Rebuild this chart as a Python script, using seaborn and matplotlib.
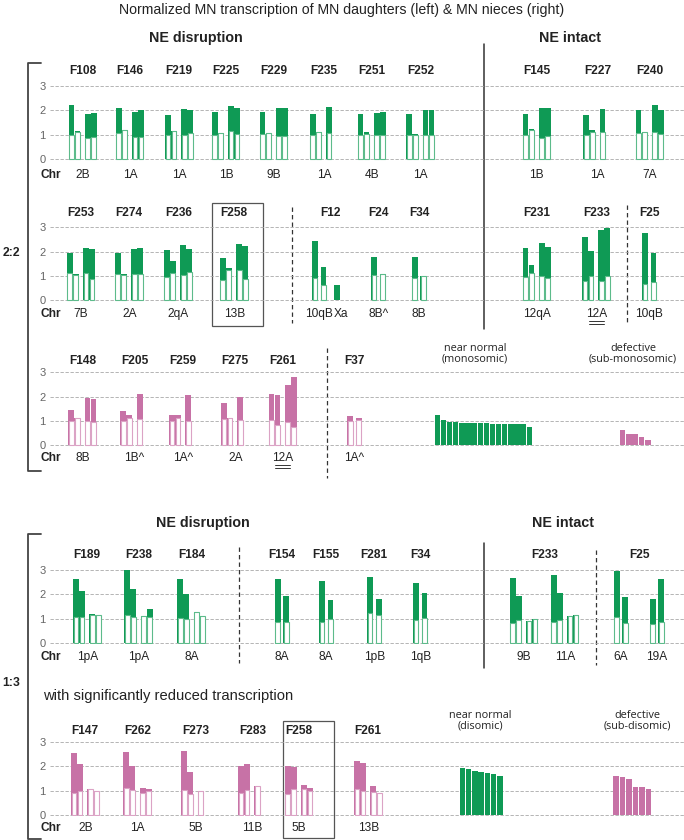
import numpy as np
import pandas as pd
import matplotlib
matplotlib.use("Agg")
import matplotlib.pyplot as plt
from matplotlib.patches import Rectangle
import seaborn as sns

# ---- values (top = total, base = white part) ----
# 2:2, row 1
r1_fam = ["F108", "F146", "F219", "F225", "F229", "F235", "F251", "F252", "F145", "F227", "F240"]
r1_span = [1] * 11
r1_chr = ["2B", "1A", "1A", "1B", "9B", "1A", "4B", "1A", "1B", "1A", "7A"]
r1_top = [[2.23, 1.16, 1.84, 1.89], [2.10, 1.20, 1.93, 2.03], [1.81, 1.16, 2.04, 2.03],
          [1.95, 1.08, 2.18, 2.11], [1.92, 1.07, 2.08, 2.08], [1.84, 1.10, 2.15],
          [1.85, 1.11, 1.89, 1.93], [1.86, 1.04, 2.01, 2.01], [1.85, 1.25, 2.12, 2.12],
          [1.81, 1.18, 2.07], [2.01, 1.12, 2.22, 2.01]]
r1_base = [[1.00, 1.12, 0.88, 0.93], [1.07, 1.20, 0.92, 0.92], [0.99, 1.16, 0.99, 1.08],
           [1.00, 1.08, 1.14, 1.04], [1.03, 1.07, 0.96, 0.96], [1.00, 1.10, 1.07],
           [0.99, 1.04, 0.99, 0.99], [0.99, 1.00, 0.99, 0.99], [1.00, 1.18, 0.88, 0.95],
           [0.99, 1.10, 1.10], [1.08, 1.12, 1.12, 1.04]]

# 2:2, row 2
r2_fam = ["F253", "F274", "F236", "F258", "F12", "F24", "F34", "F231", "F233", "F25"]
r2_span = [1, 1, 1, 1, 2, 1, 1, 1, 1, 1]
r2_chr = ["7B", "2A", "2qA", "13B", "10qB", "Xa", "8B^", "8B", "12qA", "12A", "10qB"]
r2_top = [[1.96, 1.10, 2.16, 2.11], [1.95, 1.10, 2.11, 2.16], [2.08, 1.60, 2.29, 2.11],
          [1.75, 1.33, 2.32, 2.22], [2.44, 1.37], [0.64, 0.02], [1.78, 1.07], [1.79, 1.00],
          [2.14, 1.47, 2.36, 2.21], [2.59, 2.03, 2.88, 2.99], [2.75, 1.95]]
r2_base = [[1.12, 1.04, 1.12, 0.89], [1.08, 1.04, 1.07, 1.07], [0.97, 1.12, 1.03, 1.18],
           [0.84, 1.26, 1.23, 0.88], [0.93, 0.63], [0.0, 0.0], [1.04, 1.07], [0.92, 1.00],
           [0.97, 1.11, 1.01, 0.93], [0.81, 1.01, 0.81, 1.01], [0.67, 0.74]]

# 2:2, row 3
r3_fam = ["F148", "F205", "F259", "F275", "F261", "F37"]
r3_span = [1] * 6
r3_chr = ["8B", "1B^", "1A^", "2A", "12A", "1A^"]
r3_top = [[1.45, 1.12, 1.96, 1.89], [1.41, 1.25, 2.10], [1.23, 1.23, 2.05],
          [1.74, 1.12, 1.98], [2.12, 2.08, 2.48, 2.81], [1.22, 1.12]]
r3_base = [[0.99, 1.12, 1.00, 0.96], [1.00, 1.14, 1.08], [0.99, 1.12, 0.99],
           [1.10, 1.12, 1.05], [1.05, 0.82, 0.96, 0.74], [1.00, 1.05]]
mono_near = [1.24, 1.03, 0.95, 0.94, 0.92, 0.91, 0.90, 0.90, 0.90, 0.89, 0.89, 0.89, 0.89, 0.89, 0.88, 0.74]
mono_def = [0.63, 0.48, 0.48, 0.34, 0.23]

# 1:3, row 4
r4_fam = ["F189", "F238", "F184", "F154", "F155", "F281", "F34", "F233", "F25"]
r4_span = [1, 1, 1, 1, 1, 1, 1, 2, 2]
r4_chr = ["1pA", "1pA", "8A", "8A", "8A", "1pB", "1qB", "9B", "11A", "6A", "19A"]
r4_top = [[2.61, 2.13, 1.19, 1.13], [2.99, 2.21, 1.12, 1.41], [2.62, 2.00, 1.27, 1.09],
          [2.61, 1.91], [2.54, 1.77], [2.69, 1.80], [2.44, 2.03],
          [2.65, 1.94, 0.89, 1.00], [2.80, 2.06, 1.12, 1.15], [2.95, 1.90], [1.81, 2.61]]
r4_base = [[1.07, 1.05, 1.15, 1.13], [1.15, 1.08, 1.12, 1.08], [1.04, 0.98, 1.27, 1.09],
           [0.87, 0.87], [0.87, 0.98], [1.21, 1.13], [0.95, 1.02],
           [0.82, 0.94, 0.89, 1.00], [0.87, 0.93, 1.12, 1.15], [1.07, 0.82], [0.79, 0.85]]

# 1:3, row 5
r5_fam = ["F147", "F262", "F273", "F283", "F258", "F261"]
r5_span = [1] * 6
r5_chr = ["2B", "1A", "5B", "11B", "5B", "13B"]
r5_top = [[2.52, 2.09, 1.06, 1.00], [2.58, 1.99, 1.09, 1.05], [2.62, 1.77, 0.98],
          [1.99, 2.09, 1.20], [2.02, 1.95, 1.23, 1.09], [2.22, 2.14, 1.19, 0.89]]
r5_base = [[0.91, 1.00, 1.06, 1.00], [1.10, 1.02, 0.89, 1.00], [1.01, 0.86, 0.98],
           [0.91, 1.04, 1.20], [0.87, 1.05, 1.08, 1.00], [1.05, 0.98, 0.93, 0.89]]
di_near = [1.91, 1.87, 1.80, 1.75, 1.71, 1.66, 1.58]
di_def = [1.58, 1.57, 1.47, 1.15, 1.13, 1.06]

# ---- layout (pixels of the 684x840 canvas) ----
W, H = 684, 840
X_LEFT = 50
GREEN, GREEN_EDGE = "#0f9a55", "#5dbb8b"
PINK, PINK_EDGE = "#c772a6", "#dba3c5"
OFF4 = [-11.3, -5.3, 5.0, 11.0]
OFF2 = [-4.3, 4.3]
BAR_W = 5.8
LBL = 8.6

rows = [
    dict(fam=r1_fam, span=r1_span, chr=r1_chr, top=r1_top, base=r1_base,
         x=[82.7, 130, 179.3, 226, 273.7, 324, 371.7, 420.5, 536.8, 597.5, 649.8],
         y0=159.3, y3=86, fam_off=14.5, chr_off=15.5, color=GREEN, edge=GREEN_EDGE, ul=[]),
    dict(fam=r2_fam, span=r2_span, chr=r2_chr, top=r2_top, base=r2_base,
         x=[81, 129.2, 178.2, 234.2, 319.2, 341.2, 378.3, 419, 536.8, 596.2, 649.2],
         y0=300.3, y3=227.3, fam_off=14.5, chr_off=14, color=GREEN, edge=GREEN_EDGE, ul=[9]),
    dict(fam=r3_fam, span=r3_span, chr=r3_chr, top=r3_top, base=r3_base,
         x=[82.5, 134.6, 183.3, 235.3, 282.7, 354.5],
         y0=445.3, y3=372.3, fam_off=11, chr_off=13, color=PINK, edge=PINK_EDGE, ul=[4]),
    dict(fam=r4_fam, span=r4_span, chr=r4_chr, top=r4_top, base=r4_base,
         x=[87.3, 138.7, 191.5, 282, 326.2, 374.3, 420.2, 524, 565, 621, 657],
         y0=643, y3=569.7, fam_off=14.5, chr_off=13.7, color=GREEN, edge=GREEN_EDGE, ul=[]),
    dict(fam=r5_fam, span=r5_span, chr=r5_chr, top=r5_top, base=r5_base,
         x=[85.3, 137.7, 195.7, 252.3, 299, 368.2],
         y0=815, y3=741.7, fam_off=10.5, chr_off=13.3, color=PINK, edge=PINK_EDGE, ul=[]),
]

# summary bars: (row index, values, colour, first bar centre, step)
summary = [
    (2, mono_near, GREEN, 437.4, 6.125),
    (2, mono_def, PINK, 622.5, 6.34),
    (4, di_near, GREEN, 462.4, 6.24),
    (4, di_def, PINK, 616.2, 6.45),
]

sns.set_theme(style="white")
plt.rcParams["font.family"] = ["Liberation Sans", "DejaVu Sans"]

fig = plt.figure(figsize=(W / 100, H / 100), dpi=100)
ov = fig.add_axes([0, 0, 1, 1])
ov.set_xlim(0, W)
ov.set_ylim(H, 0)
ov.axis("off")


def bar_table(centers, tops, bases):
    recs = []
    for c, tt, bb in zip(centers, tops, bases):
        offs = OFF2 if len(tt) == 2 else OFF4
        for o, t, b in zip(offs, tt, bb):
            recs.append({"x": c + o, "top": t, "base": b})
    return pd.DataFrame(recs)


def sns_bars(ax, df, col, bar_w, **kws):
    xs = np.unique(df["x"])
    step = np.diff(xs).min() if len(xs) > 1 else 1.0
    sns.barplot(data=df, x="x", y=col, native_scale=True, width=bar_w / step,
                errorbar=None, saturation=1, ax=ax, **kws)


PAD = 0.06
axes = []
for r in rows:
    unit = (r["y0"] - r["y3"]) / 3
    bottom = r["y0"] + PAD * unit
    top = r["y3"] - PAD * unit
    ax = fig.add_axes([X_LEFT / W, 1 - bottom / H, (W - X_LEFT) / W, (bottom - top) / H])
    ax.set_facecolor("none")

    df = bar_table(r["x"], r["top"], r["base"])
    sns_bars(ax, df, "top", BAR_W, color=r["color"], linewidth=0)
    sns_bars(ax, df[df["base"] > 0], "base", BAR_W - 1.0, color="white",
             edgecolor=r["edge"], linewidth=0.8)

    ax.set_xlim(X_LEFT, W)
    ax.set_ylim(-PAD, 3 + PAD)
    ax.set_xticks([])
    ax.set_yticks([0, 1, 2, 3])
    ax.set_xlabel("")
    ax.set_ylabel("")
    ax.set_axisbelow(True)
    ax.grid(axis="y", color="#a8a8a8", linestyle=(0, (4, 2)), linewidth=0.6)
    ax.tick_params(axis="y", length=0, pad=3, labelsize=8, labelcolor="#666666")
    for s in ax.spines.values():
        s.set_visible(False)
    axes.append(ax)

    # family labels above, chromosome labels below
    i = 0
    for name, n in zip(r["fam"], r["span"]):
        cx = np.mean(r["x"][i:i + n])
        ov.text(cx, r["y3"] - r["fam_off"], name, ha="center", va="center",
                fontsize=LBL, fontweight="bold", color="#222222")
        i += n
    cy = r["y0"] + r["chr_off"]
    ov.text(50.5, cy, "Chr", ha="center", va="center", fontsize=LBL,
            fontweight="bold", color="#222222")
    for j, (cx, lab) in enumerate(zip(r["x"], r["chr"])):
        ov.text(cx, cy, lab, ha="center", va="center", fontsize=LBL, color="#222222")
        if j in r["ul"]:
            for dy in (7, 10):
                ov.plot([cx - 7.5, cx + 7.5], [cy + dy, cy + dy], color="#333333", lw=0.7)

for ri, vals, col, x0, step in summary:
    sdf = pd.DataFrame({"x": [x0 + k * step for k in range(len(vals))], "top": vals})
    sns_bars(axes[ri], sdf, "top", step * 0.88, color=col, linewidth=0)
    axes[ri].set_xlim(X_LEFT, W)
    axes[ri].set_ylim(-PAD, 3 + PAD)
    axes[ri].set_xlabel("")
    axes[ri].set_ylabel("")

# summary captions
cap_kw = dict(ha="center", va="center", fontsize=7.8, color="#222222",
              family=["Open Sans", "DejaVu Sans"], linespacing=0.95)
ov.text(475, 354, "near normal\n(monosomic)", **cap_kw)
ov.text(633, 354, "defective\n(sub-monosomic)", **cap_kw)
ov.text(480, 721, "near normal\n(disomic)", **cap_kw)
ov.text(637, 721, "defective\n(sub-disomic)", **cap_kw)

# headers
ov.text(342, 10, "Normalized MN transcription of MN daughters (left) & MN nieces (right)",
        ha="center", va="center", fontsize=10.2, color="#222222")
for x, y, t in [(196, 38, "NE disruption"), (570, 38, "NE intact"),
                (203, 523, "NE disruption"), (563, 523, "NE intact")]:
    ov.text(x, y, t, ha="center", va="center", fontsize=10.3, fontweight="bold", color="#222222")
ov.text(43, 696, "with significantly reduced transcription", ha="left", va="center",
        fontsize=10.6, color="#222222")

# brackets and group labels
ov.plot([41, 28, 28, 41], [62.7, 62.7, 471, 471], color="#444444", lw=1.3)
ov.plot([41, 28, 28, 41], [534.3, 534.3, 838.5, 838.5], color="#444444", lw=1.3)
ov.text(11, 253, "2:2", ha="center", va="center", fontsize=8.8, fontweight="bold", color="#222222")
ov.text(11, 683, "1:3", ha="center", va="center", fontsize=8.8, fontweight="bold", color="#222222")

# separators
solid = [(484, 44, 329), (484, 543, 668)]
dashed = [(291.7, 207, 323), (627.3, 205, 322), (327.3, 348, 478),
          (238.7, 547, 663), (595.7, 550, 665)]
for x, ya, yb in solid:
    ov.plot([x, x], [ya, yb], color="#333333", lw=1.1)
for x, ya, yb in dashed:
    ov.plot([x, x], [ya, yb], color="#333333", lw=0.9, linestyle=(0, (3.5, 2.5)))

# boxes around F258
ov.add_patch(Rectangle((212, 203), 51, 123, fill=False, ec="#555555", lw=0.9))
ov.add_patch(Rectangle((282.7, 721), 51.3, 117, fill=False, ec="#555555", lw=0.9))

fig.savefig("out.png", dpi=100)
